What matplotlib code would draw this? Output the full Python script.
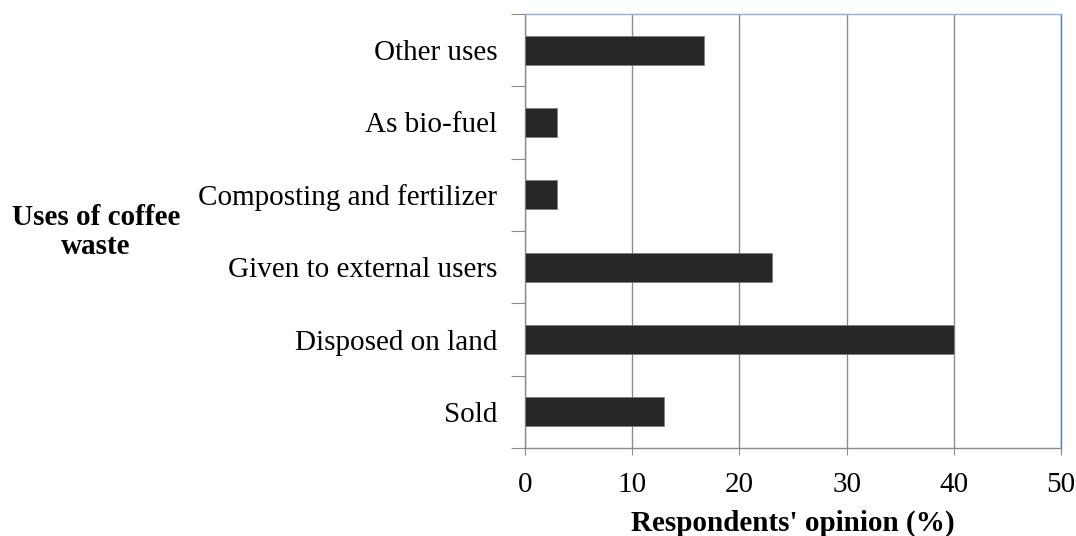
import numpy as np
import matplotlib.pyplot as plt

# data (bottom to top)
categories = ['Sold', 'Disposed on land', 'Given to external users',
              'Composting and fertilizer', 'As bio-fuel', 'Other uses']
values = [13, 40, 23, 3, 3, 16.7]
xticks = [0, 10, 20, 30, 40, 50]

plt.rcParams['font.family'] = ['Liberation Serif', 'DejaVu Serif']

fig = plt.figure(figsize=(10.76, 5.36), dpi=100)
ax = fig.add_axes([525/1076, 1-448/536, 536/1076, 434/536])

y = np.arange(len(categories))
ax.barh(y, values, height=0.4, color='#262626', edgecolor='#7f7f7f', linewidth=0.6, zorder=3)

ax.set_xlim(0, 50)
ax.set_ylim(-0.5, len(categories)-0.5)
ax.set_xticks(xticks)
ax.set_xticklabels([str(t) for t in xticks], fontsize=21)
ax.grid(axis='x', color='#8c8c8c', linewidth=1.0, zorder=0)

# category boundaries as ticks, labels at centres
ax.set_yticks(np.arange(-0.5, len(categories)))
ax.set_yticklabels([])
ax.set_yticks(y, minor=True)
ax.set_yticklabels(categories, minor=True, fontsize=21)
ax.tick_params(axis='y', which='major', length=10, color='#8c8c8c', direction='out')
ax.tick_params(axis='y', which='minor', length=0, pad=20)
ax.tick_params(axis='x', length=5, color='#8c8c8c', direction='out', pad=12)

for s in ['left', 'bottom']:
    ax.spines[s].set_color('#8c8c8c')
ax.spines['top'].set_color('#8eaedb')
ax.spines['right'].set_color('#4f81bd')
for s in ax.spines.values():
    s.set_linewidth(1.0)

ax.set_xlabel("Respondents' opinion (%)", fontsize=21, fontweight='bold', labelpad=9)
fig.text(96/1076, 1-232/536, 'Uses of coffee\nwaste', fontsize=21, fontweight='bold',
         ha='center', va='center', linespacing=1.1)

fig.savefig('out.png', dpi=100)
